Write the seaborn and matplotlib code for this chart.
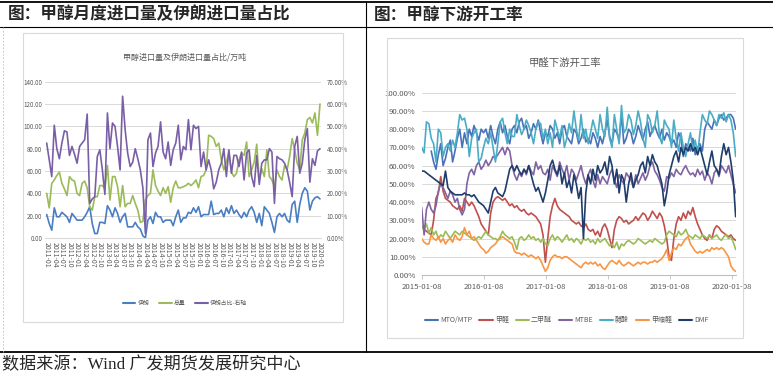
import numpy as np
import pandas as pd
import seaborn as sns
import matplotlib.pyplot as plt
from matplotlib.patches import Rectangle
from matplotlib.lines import Line2D
from matplotlib.ticker import FuncFormatter

# ---- 左图: 月度数据 2011-01 ~ 2020-01 (万吨 / %) ----
months = pd.period_range("2011-01", "2020-01", freq="M").strftime("%Y-%m")

iran = [21, 13, 7, 27, 19, 19, 23, 21, 19, 14,
        22, 19, 16, 16, 16, 19, 23, 28, 13, 4,
        4, 14, 14, 13, 29, 25, 19, 27, 22, 14,
        19, 22, 10, 10, 10, 14, 10, 8, 2, 0,
        16, 19, 13, 23, 19, 19, 14, 16, 16, 16,
        11, 19, 25, 14, 18, 18, 23,
        22, 27, 23, 28, 19, 21, 21, 21, 33,
        21, 22, 22, 25, 19, 27, 22, 29, 22, 25, 21, 18,
        23, 19, 25, 28, 23, 14, 22, 11, 28, 25, 22, 14, 5,
        19, 22, 19, 22, 16, 14, 30, 33,
        14, 30, 40, 45, 42, 25, 33, 36, 37, 35]

total = [40, 27, 49, 52, 56, 59, 49, 44, 38, 55,
         52, 51, 40, 38, 49, 51, 45, 28, 25, 37,
         37, 47, 47, 44, 65, 34, 55, 55, 46, 28,
         47, 28, 31, 31, 38, 31, 25, 14, 15, 34,
         38, 40, 61, 47, 42, 38, 45, 40, 46, 32,
         45, 51, 45, 45, 46, 47, 49,
         47, 49, 52, 45, 55, 56, 61, 92,
         91, 89, 82, 85, 70,
         61, 68, 77, 59, 55, 58, 70, 76, 74,
         86, 55, 61, 68, 84, 52, 62, 55, 79, 55, 52, 46, 61, 55, 52,
         65, 61, 73, 89, 79, 67, 61, 88, 94, 106, 108, 103, 112, 92, 120]

iran_share = [42.5, 35, 27.5, 50.5, 40, 35.5, 42.5, 48, 47.5, 37,
              41, 37.5, 33.5, 41, 42.5, 44, 55.5, 15.5, 17.5, 18.5,
              36.5, 39.5, 30.5, 19.5, 56, 40, 51.5, 50, 41, 30.5,
              63.5, 48.5, 38, 32, 34, 40, 35.5, 30.5, 22.5, 2,
              44, 47, 32, 38, 41, 52, 38.5, 35.5, 43, 32.5,
              39.5, 42.5, 50.5, 35, 41, 39.5, 53,
              39.5, 50.5, 49, 50, 32, 38.5, 30.5, 35, 30.5, 22,
              25, 30.5, 33.5, 40, 27.5, 39.5, 29, 37, 37, 32,
              38.5, 26, 38, 39.5, 27.5, 23, 37, 24, 33.5, 35,
              35, 40, 38.5, 15.5, 36.5, 35.5, 35, 33.5, 30.5, 25,
              18.5, 41, 45.5, 29, 33.5, 44, 49, 25, 35.5, 32.5,
              39, 40]

# ---- 右图: 双周数据, 起点 2015-01-08 (开工率 %) ----
mto = [np.nan, np.nan, np.nan, np.nan, 68, 62, 58, 66, 72, 60, 64, 70, 74,
       62, 68, 75, 80, 70, 78, 72, 80, 76, 82, 78, 74, 80,
       78, 80, 75, 82, 76, 72, 80, 84, 78, 82, 76, 72, 80,
       82, 78, 84, 86, 80, 82, 75, 78, 83, 80, 85, 78, 72,
       78, 76, 82, 80, 75, 78, 72, 80, 82, 76, 74, 72, 80,
       78, 72, 75, 80, 73, 75, 72, 78, 75, 70, 76, 72, 78,
       85, 76, 72, 80, 78, 74, 88, 72, 75, 80, 78, 72, 76,
       82, 78, 74, 80, 84, 76, 80, 82, 78, 75, 80, 74, 78,
       76, 72, 74, 70, 78, 75, 65, 72, 70, 68, 75, 66, 70,
       72, 68, 80, 84, 82, 80, 85, 82, 86, 88, 85, 86, 88,
       88, 86, 80]
formaldehyde = [27, 25, 24, 23, 22, 30, 42, 45, 54, 46, 42, 41, 40,
                38, 37, 36, 38, 35, 42, 40, 38, 40, 38, 35, 32, 28,
                26, 24, 22, 34, 40, 42, 43, 42, 41, 42, 40, 38, 39,
                37, 38, 36, 35, 36, 34, 33, 34, 33, 32, 30, 28, 22,
                7, 20, 32, 38, 42, 38, 36, 35, 34, 33, 32, 30, 29,
                28, 29, 27, 26, 28, 25, 24, 25, 22, 24, 21, 26, 28,
                25, 20, 15, 25, 30, 32, 31, 29, 30, 28, 29, 30, 32,
                30, 32, 34, 33, 30, 32, 35, 33, 31, 34, 32, 27, 20,
                10, 8, 20, 28, 32, 30, 34, 31, 35, 33, 37, 32, 28,
                25, 22, 20, 19, 22, 20, 25, 27, 26, 24, 23, 22, 21,
                22, 20, 19]
dme = [27, 25, 28, 23, 26, 22, 24, 20, 22, 21, 24, 22, 20,
       22, 24, 23, 22, 24, 23, 22, 21, 20, 19, 20, 21, 20,
       22, 24, 22, 21, 20, 20, 19, 21, 24, 22, 21, 20, 21,
       18, 14, 20, 21, 19, 20, 22, 20, 21, 19, 20, 18, 20,
       17, 16, 20, 22, 19, 21, 20, 18, 20, 22, 19, 20, 18,
       20, 19, 17, 20, 19, 20, 18, 19, 17, 20, 18, 19, 20,
       18, 16, 17, 15, 18, 14, 17, 16, 18, 19, 18, 17, 18,
       20, 19, 18, 17, 18, 19, 18, 20, 19, 18, 17, 18, 22,
       24, 23, 22, 21, 24, 22, 23, 25, 22, 21, 20, 22, 21,
       20, 22, 21, 20, 22, 20, 21, 22, 20, 19, 21, 22, 20,
       21, 18, 14]
mtbe = [37, 22, 36, 40, 36, 34, 38, 46, 50, 48, 45, 42, 46,
        44, 40, 42, 36, 33, 36, 50, 56, 58, 55, 60, 62, 58,
        60, 63, 60, 62, 65, 64, 66, 68, 70, 66, 70, 68, 60,
        55, 52, 56, 54, 58, 55, 60, 57, 55, 62, 58, 60, 56,
        55, 58, 52, 60, 57, 54, 62, 58, 55, 60, 52, 58, 56,
        52, 56, 60, 54, 50, 55, 58, 52, 48, 55, 50, 54, 52,
        50, 55, 58, 52, 48, 55, 52, 50, 56, 54, 52, 48, 55,
        50, 53, 56, 52, 55, 60, 62, 57, 55, 52, 48, 46, 54,
        53, 56, 54, 58, 56, 55, 58, 60, 57, 55, 56, 54, 58,
        55, 57, 52, 56, 54, 50, 56, 58, 54, 60, 58, 56, 60,
        55, 50, 45]
acetic = [70, 67, 84, 83, 75, 72, 62, 80, 78, 65, 70, 72, 68,
          74, 70, 78, 88, 85, 86, 80, 65, 75, 78, 80, 62, 64,
          70, 75, 72, 78, 70, 62, 72, 84, 86, 78, 72, 80, 76,
          76, 88, 82, 77, 80, 85, 82, 78, 72, 80, 84, 83, 75,
          80, 72, 78, 70, 85, 80, 75, 82, 70, 75, 83, 78, 90,
          80, 74, 88, 75, 80, 72, 78, 85, 80, 75, 88, 80, 76,
          92, 75, 70, 88, 80, 72, 93, 78, 80, 88, 85, 77, 82,
          90, 84, 75, 70, 88, 85, 78, 82, 90, 76, 72, 85, 82,
          80, 70, 85, 75, 68, 78, 70, 65, 72, 78, 68, 74, 66,
          78, 88, 85, 83, 90, 88, 85, 82, 88, 86, 89, 84, 88,
          85, 78, 65]
methylal = [20, 18, 17, 17, 22, 20, 19, 21, 18, 20, 17, 19, 20,
            18, 22, 20, 19, 21, 26, 22, 24, 20, 21, 19, 17, 15,
            14, 12, 13, 15, 16, 17, 19, 20, 21, 20, 19, 18, 17,
            13, 12, 12, 11, 12, 11, 10, 11, 10, 9, 10, 8, 5,
            2, 4, 8, 10, 11, 10, 10, 9, 10, 10, 9, 8, 7,
            6, 5, 4, 6, 7, 6, 7, 6, 7, 5, 6, 4, 3,
            5, 7, 8, 7, 6, 8, 6, 5, 6, 7, 6, 5, 6,
            7, 6, 7, 7, 6, 7, 7, 8, 7, 8, 9, 11, 14,
            8, 12, 15, 14, 17, 16, 18, 20, 21, 17, 15, 13, 12,
            13, 12, 13, 14, 13, 15, 14, 15, 14, 15, 14, 12, 10,
            5, 3, 2]
dmf = [57, 57, 56, 55, 54, 53, 52, 51, 50, 49, 57, 48, 46,
       45, 44, 44, 44, 44, 45, 44, 44, 43, 44, 42, 40, 39,
       38, 36, 34, 40, 46, 48, 45, 44, 43, 46, 52, 58, 60,
       57, 60, 57, 55, 58, 56, 60, 55, 50, 46, 48, 44, 40,
       45, 52, 60, 63, 58, 55, 60, 50, 56, 48, 52, 45, 55,
       50, 42, 48, 20, 45, 55, 50, 58, 52, 60, 56, 58, 62,
       55, 65, 60, 50, 58, 45, 55, 52, 40, 50, 56, 48, 52,
       55, 60, 62, 56, 65, 60, 66, 62, 60, 55, 50, 38, 45,
       55, 60, 65, 68, 62, 70, 66, 70, 68, 72, 68, 70, 66,
       70, 65, 60, 55, 62, 68, 60, 58, 55, 65, 72, 66, 70,
       62, 52, 32]

right_names = ["MTO/MTP", "甲醛", "二甲醚", "MTBE", "醋酸", "甲缩醛", "DMF"]
right_series = [mto, formaldehyde, dme, mtbe, acetic, methylal, dmf]
right_colors = ["#4A72B8", "#C0504D", "#9BBB59", "#8064A2", "#4BACC6", "#F79646", "#1F3D6B"]
year_ticks = ["2015-01-08", "2016-01-08", "2017-01-08", "2018-01-08", "2019-01-08", "2020-01-08"]

sns.set_style("white")
plt.rcParams["font.family"] = ["Noto Sans CJK SC", "DejaVu Sans"]

W, H = 773, 377
fig = plt.figure(figsize=(W / 100, H / 100), dpi=100)

def fx(px):
    return px / W

def fy(py):
    return 1 - py / H

gray_txt = "#595959"
grid_c = "#D9D9D9"

# ---- 表格框线 ----
fig.add_artist(Line2D([0, 1], [fy(2), fy(2)], color="black", lw=1.3))
fig.add_artist(Line2D([0, 1], [fy(27), fy(27)], color="black", lw=0.8))
fig.add_artist(Line2D([0, 1], [fy(352), fy(352)], color="black", lw=1.3))
fig.add_artist(Line2D([fx(366), fx(366)], [fy(2), fy(352)], color="black", lw=0.8))
fig.add_artist(Line2D([fx(3), fx(3)], [fy(27), fy(352)], color="#BFBFBF", lw=0.6, ls=(0, (2, 2))))

fig.text(fx(8), fy(14.5), "图：甲醇月度进口量及伊朗进口量占比", fontsize=12, fontweight="bold", va="center")
fig.text(fx(374), fy(14.5), "图：甲醇下游开工率", fontsize=12, fontweight="bold", va="center")
fig.text(fx(2), fy(365), "数据来源：Wind 广发期货发展研究中心", fontsize=12.3, va="center",
         family=["Liberation Serif", "Noto Sans CJK SC"])

# ---- 左图 ----
fig.add_artist(Rectangle((fx(23), fy(322)), fx(343) - fx(23), fy(33) - fy(322),
                         transform=fig.transFigure, fill=False, ec=grid_c, lw=0.8))
fig.text(fx(185), fy(57), "甲醇进口量及伊朗进口量占比/万吨", fontsize=5.8, color=gray_txt,
         ha="center", va="center")

ax1 = fig.add_axes([fx(45), fy(238), fx(321) - fx(45), fy(81.7) - fy(238)])
idx = np.arange(len(months))
c_iran, c_total, c_share = "#4A7EC2", "#9BBB59", "#7B5FA6"
sns.lineplot(x=idx, y=iran, ax=ax1, color=c_iran, lw=1.2, legend=False)
sns.lineplot(x=idx, y=total, ax=ax1, color=c_total, lw=1.2, legend=False)
ax1.set_ylim(0, 140)
ax1.set_xlim(-0.67, 108.4)
ax1.set_yticks(range(0, 141, 20))
ax1.yaxis.set_major_formatter(FuncFormatter(lambda v, _: f"{v:.2f}"))
ax1.set_xticks(idx[::3])
ax1.set_xticklabels(months[::3], rotation=270, fontsize=5, color=gray_txt)
ax1.tick_params(axis="y", labelsize=4.5, labelcolor=gray_txt, length=0, pad=2)
ax1.tick_params(axis="x", length=0, pad=3)
ax1.yaxis.grid(True, color=grid_c, lw=0.7)
for s in ["top", "left", "right"]:
    ax1.spines[s].set_visible(False)
ax1.spines["bottom"].set_color(grid_c)
ax1.set_xlabel("")
ax1.set_ylabel("")

ax1b = ax1.twinx()
sns.lineplot(x=idx, y=iran_share, ax=ax1b, color=c_share, lw=1.2, legend=False)
ax1b.set_ylim(0, 70)
ax1b.set_yticks(range(0, 71, 10))
ax1b.yaxis.set_major_formatter(FuncFormatter(lambda v, _: f"{v:.2f}%"))
ax1b.tick_params(axis="y", labelsize=4.5, labelcolor=gray_txt, length=0, pad=4)
for s in ax1b.spines.values():
    s.set_visible(False)
ax1b.set_ylabel("")

left_handles = [Line2D([], [], color=c, lw=1.5) for c in (c_iran, c_total, c_share)]
fig.legend(left_handles, ["伊朗", "总量", "伊朗占比-右轴"], loc="center",
           bbox_to_anchor=(fx(185), fy(303)), ncol=3, frameon=False, fontsize=4.2,
           handlelength=2.2, columnspacing=1.6, handletextpad=0.4, labelcolor=gray_txt)

# ---- 右图 ----
fig.add_artist(Rectangle((fx(387), fy(338)), fx(743) - fx(387), fy(38) - fy(338),
                         transform=fig.transFigure, fill=False, ec=grid_c, lw=0.8))
fig.text(fx(565), fy(63), "甲醛下游开工率", fontsize=7.5, color=gray_txt, ha="center", va="center")

ax2 = fig.add_axes([fx(421.7), fy(275), fx(736) - fx(421.7), fy(92.7) - fy(275)])
dates = pd.date_range("2015-01-08", periods=len(mto), freq="14D")
for name, vals, col in zip(right_names, right_series, right_colors):
    sns.lineplot(x=dates, y=vals, ax=ax2, color=col, lw=1.2, legend=False)
start = pd.Timestamp("2015-01-08")
ax2.set_xlim(start, start + pd.Timedelta(days=1850))
ax2.set_ylim(0, 100)
ax2.set_yticks(range(0, 101, 10))
ax2.yaxis.set_major_formatter(FuncFormatter(lambda v, _: f"{v:.2f}%"))
ax2.set_xticks(pd.to_datetime(year_ticks))
ax2.set_xticklabels(year_ticks)
ax2.tick_params(axis="y", labelsize=5.6, labelcolor=gray_txt, length=0, pad=4.5)
ax2.tick_params(axis="x", labelsize=5.6, labelcolor=gray_txt, length=3, width=0.6,
                color="#BFBFBF", pad=2.5, bottom=True)
ax2.yaxis.grid(True, color=grid_c, lw=0.7)
for s in ["top", "left", "right"]:
    ax2.spines[s].set_visible(False)
ax2.spines["bottom"].set_color("#BFBFBF")
ax2.set_xlabel("")
ax2.set_ylabel("")

right_handles = [Line2D([], [], color=c, lw=1.5) for c in right_colors]
fig.legend(right_handles, right_names, loc="center", bbox_to_anchor=(fx(567), fy(320)),
           ncol=7, frameon=False, fontsize=5, handlelength=1.9, columnspacing=1.0,
           handletextpad=0.3, labelcolor=gray_txt)

fig.savefig("out.png", dpi=100)
